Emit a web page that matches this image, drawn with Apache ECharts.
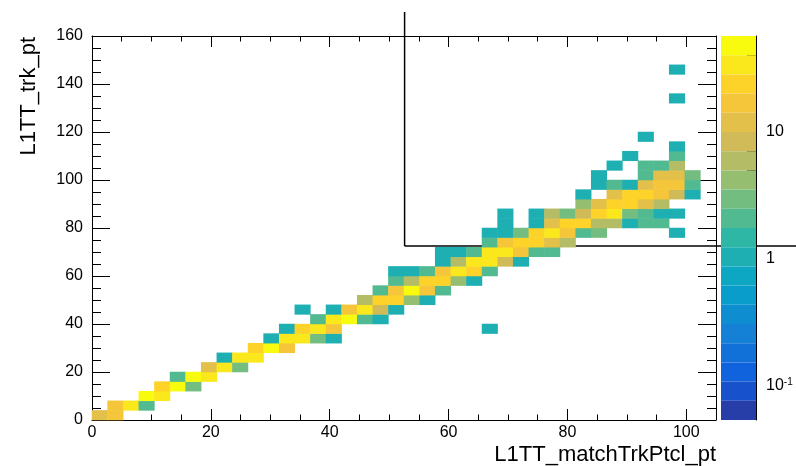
<!DOCTYPE html>
<html>
<head>
<meta charset="utf-8">
<script src="https://cdn.jsdelivr.net/npm/echarts@6/dist/echarts.min.js"></script>
<style>
html, body { margin: 0; padding: 0; background: #fff; }
#chart { width: 796px; height: 466px; }
</style>
</head>
<body>
<div id="chart"></div>
<script>
// histogram binning (ROOT default 40 x 40)
const nBinsX = 40, xMax = 105;
const nBinsY = 40, yMax = 160;
const xTickStep = 20, yTickStep = 20, minorStep = 5;

// log colour scale
const zMin = 0.054, zMax = 57;
const zMajorTicks = [0.1, 1, 10];
const zMinorTicks = [0.06, 0.07, 0.08, 0.09, 0.2, 0.3, 0.4, 0.5, 0.6, 0.7, 0.8, 0.9,
  2, 3, 4, 5, 6, 7, 8, 9, 20, 30, 40, 50];

// entries: [yBin, [[xBin, count], ...]]
const rows = [
  [0, [[0, 12], [1, 17]]],
  [1, [[1, 17], [2, 34], [3, 2]]],
  [2, [[3, 48], [4, 34]]],
  [3, [[4, 24], [5, 48], [6, 3]]],
  [4, [[5, 2], [6, 48], [7, 34]]],
  [5, [[7, 12], [8, 34], [9, 3]]],
  [6, [[8, 1], [9, 34], [10, 30]]],
  [7, [[10, 24], [11, 48], [12, 17]]],
  [8, [[11, 1], [12, 34], [13, 34], [14, 3], [15, 1]]],
  [9, [[12, 1], [13, 24], [14, 34], [15, 17], [25, 1]]],
  [10, [[14, 2], [15, 30], [16, 48], [17, 2], [18, 1]]],
  [11, [[13, 1], [15, 1], [16, 17], [17, 34], [18, 9], [19, 1]]],
  [12, [[17, 6], [18, 24], [19, 26], [20, 4], [21, 1]]],
  [13, [[18, 2], [19, 17], [20, 48], [21, 17], [22, 2]]],
  [14, [[19, 2], [20, 6], [21, 24], [22, 24], [23, 4], [24, 1]]],
  [15, [[19, 1], [20, 1], [21, 2], [22, 17], [23, 34], [24, 24], [25, 2]]],
  [16, [[22, 1], [23, 6], [24, 32], [25, 30], [26, 9], [27, 1]]],
  [17, [[22, 1], [23, 1], [24, 2], [25, 34], [26, 34], [27, 17], [28, 2], [29, 2]]],
  [18, [[25, 2], [26, 17], [27, 24], [28, 28], [29, 11], [30, 6]]],
  [19, [[25, 1], [26, 1], [27, 3], [28, 26], [29, 36], [30, 17], [31, 2], [32, 3], [37, 1]]],
  [20, [[26, 1], [28, 1], [29, 12], [30, 24], [31, 24], [32, 6], [33, 6], [34, 1], [35, 2], [36, 2]]],
  [21, [[26, 1], [28, 1], [29, 6], [30, 3], [31, 9], [32, 24], [33, 36], [34, 3], [35, 2], [36, 1], [37, 1]]],
  [22, [[31, 4], [32, 12], [33, 24], [34, 24], [35, 12], [36, 6]]],
  [23, [[31, 1], [33, 12], [34, 24], [35, 24], [36, 17], [37, 9], [38, 1]]],
  [24, [[32, 1], [33, 2], [34, 1], [35, 12], [36, 17], [37, 17], [38, 2]]],
  [25, [[32, 1], [35, 2], [36, 12], [37, 12], [38, 3]]],
  [26, [[33, 1], [35, 2], [36, 2], [37, 6]]],
  [27, [[34, 1], [37, 2]]],
  [28, [[37, 1]]],
  [29, [[35, 1]]],
  [33, [[37, 1]]],
  [36, [[37, 1]]]
];

// cut line drawn on the pad
const cutX = [52.6, 52.6, 120];
const cutY = [170, 72.5, 72.5];

// kBird palette
const birdStops = [0, 0.125, 0.25, 0.375, 0.5, 0.625, 0.75, 0.875, 1];
const birdR = [0.2082, 0.0592, 0.0780, 0.0232, 0.1802, 0.5301, 0.8186, 0.9956, 0.9764];
const birdG = [0.1664, 0.3599, 0.5041, 0.6419, 0.7178, 0.7492, 0.7328, 0.7862, 0.9832];
const birdB = [0.5293, 0.8684, 0.8385, 0.7914, 0.6425, 0.4662, 0.3499, 0.1968, 0.0539];
function birdColor(p) {
  let k = 0;
  while (k < birdStops.length - 2 && p > birdStops[k + 1]) k++;
  const t = (p - birdStops[k]) / (birdStops[k + 1] - birdStops[k]);
  const c = (a) => Math.round(255 * (a[k] + t * (a[k + 1] - a[k])));
  return 'rgb(' + c(birdR) + ',' + c(birdG) + ',' + c(birdB) + ')';
}

const nContours = 20;
const lzMin = Math.log10(zMin), lzMax = Math.log10(zMax);
const pieces = [];
for (let k = 0; k < nContours; k++) {
  const idx = Math.floor((k + 0.99) * 255 / nContours);
  pieces.push({
    gte: Math.pow(10, lzMin + k * (lzMax - lzMin) / nContours),
    lt: Math.pow(10, lzMin + (k + 1) * (lzMax - lzMin) / nContours),
    color: birdColor(idx / 254)
  });
}

const cells = [];
rows.forEach(([iy, list]) => list.forEach(([ix, n]) => cells.push([ix, iy, n])));
const xCats = Array.from({ length: nBinsX }, (_, i) => String(i));
const yCats = Array.from({ length: nBinsY }, (_, i) => String(i));

// cut as segments [x1, y1, x2, y2]
const cutSegments = [];
for (let i = 0; i < cutX.length - 1; i++) {
  cutSegments.push([cutX[i], cutY[i], cutX[i + 1], cutY[i + 1]]);
}

const font = '"Liberation Sans", Helvetica, Arial, sans-serif';
const black = { color: '#000', width: 1 };

function valueAxis(extra) {
  return Object.assign({
    type: 'value',
    gridIndex: 0,
    min: 0,
    splitLine: { show: false },
    axisLine: { show: true, onZero: false, lineStyle: black },
    axisLabel: { show: false },
    axisTick: { show: true, inside: true, lineStyle: black }
  }, extra);
}

const chart = echarts.init(document.getElementById('chart'));
const option = {
  animation: false,
  backgroundColor: '#fff',
  grid: [
    { left: 92, right: 80, top: 36, bottom: 46 },
    { left: 721, right: 40, top: 36, bottom: 46 }
  ],
  xAxis: [
    { type: 'category', gridIndex: 0, data: xCats, show: false },
    valueAxis({ position: 'bottom', max: xMax, interval: xTickStep,
      axisTick: { show: true, inside: true, length: 11, lineStyle: black },
      axisLabel: { show: true, color: '#000', fontSize: 16, fontFamily: font, margin: 5, showMaxLabel: false } }),
    valueAxis({ position: 'bottom', max: xMax, interval: minorStep, axisLine: { show: false, onZero: false },
      axisTick: { show: true, inside: true, length: 5.5, lineStyle: black } }),
    valueAxis({ position: 'top', max: xMax, interval: xTickStep,
      axisTick: { show: true, inside: true, length: 11, lineStyle: black } }),
    valueAxis({ position: 'top', max: xMax, interval: minorStep, axisLine: { show: false, onZero: false },
      axisTick: { show: true, inside: true, length: 5.5, lineStyle: black } }),
    { type: 'value', gridIndex: 1, min: 0, max: 1, show: false }
  ],
  yAxis: [
    { type: 'category', gridIndex: 0, data: yCats, show: false },
    valueAxis({ position: 'left', max: yMax, interval: yTickStep,
      axisTick: { show: true, inside: true, length: 18, lineStyle: black },
      minorTick: { show: true, splitNumber: yTickStep / minorStep, length: 9, lineStyle: black },
      axisLabel: { show: true, color: '#000', fontSize: 16, fontFamily: font, margin: 9 } }),
    valueAxis({ position: 'right', max: yMax, interval: yTickStep,
      axisTick: { show: true, inside: true, length: 18, lineStyle: black },
      minorTick: { show: true, splitNumber: yTickStep / minorStep, length: 9, lineStyle: black } }),
    {
      type: 'log', gridIndex: 1, position: 'right', logBase: 10, min: zMin, max: zMax,
      splitLine: { show: false },
      axisLine: { show: true, onZero: false, lineStyle: black },
      axisTick: { show: true, inside: true, length: 18, lineStyle: black, customValues: zMajorTicks },
      axisLabel: {
        show: true, color: '#000', fontSize: 16, fontFamily: font, margin: 10,
        customValues: zMajorTicks,
        formatter: (v) => (v < 1 ? '10{sup|-1}' : String(Math.round(v))),
        rich: { sup: { fontSize: 10, fontFamily: font, color: '#000', verticalAlign: 'top', padding: [0, 0, 8, 0] } }
      }
    },
    {
      type: 'log', gridIndex: 1, position: 'right', logBase: 10, min: zMin, max: zMax,
      splitLine: { show: false },
      axisLine: { show: false, onZero: false },
      axisLabel: { show: false },
      axisTick: { show: true, inside: true, length: 9, lineStyle: black, customValues: zMinorTicks }
    }
  ],
  visualMap: {
    type: 'piecewise',
    seriesIndex: 0,
    dimension: 2,
    pieces: pieces,
    orient: 'vertical',
    left: 721,
    top: 36,
    padding: 0,
    itemWidth: 35,
    itemHeight: 384 / nContours,
    itemGap: 0,
    itemSymbol: 'rect',
    showLabel: false,
    selectedMode: false,
    hoverLink: false
  },
  graphic: [
    { type: 'text', x: 716, y: 455, silent: true,
      style: { text: 'L1TT_matchTrkPtcl_pt', fontSize: 22, fontFamily: font, fill: '#000', align: 'right', verticalAlign: 'middle' } },
    { type: 'text', x: 29, y: 37, rotation: Math.PI / 2, silent: true,
      style: { text: 'L1TT_trk_pt', fontSize: 22, fontFamily: font, fill: '#000', align: 'right', verticalAlign: 'middle' } }
  ],
  series: [
    {
      type: 'heatmap',
      xAxisIndex: 0,
      yAxisIndex: 0,
      data: cells,
      z: 2,
      emphasis: { disabled: true }
    },
    {
      type: 'custom',
      xAxisIndex: 1,
      yAxisIndex: 1,
      data: cutSegments,
      encode: { x: [0, 2], y: [1, 3] },
      clip: false,
      silent: true,
      z: 1,
      renderItem: function (params, api) {
        const p1 = api.coord([api.value(0), api.value(1)]);
        const p2 = api.coord([api.value(2), api.value(3)]);
        return {
          type: 'line',
          shape: { x1: p1[0], y1: p1[1], x2: p2[0], y2: p2[1] },
          style: { stroke: '#000', lineWidth: 1.5 }
        };
      }
    }
  ]
};
chart.setOption(option);
</script>
</body>
</html>
